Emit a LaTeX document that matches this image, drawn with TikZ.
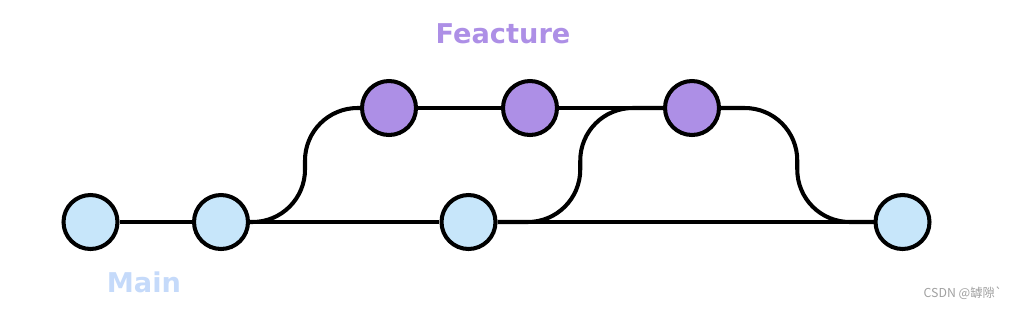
\documentclass[tikz,border=0pt]{standalone}
\usepackage{fontspec}
\setmainfont{DejaVu Sans}
\newfontfamily\cjk{Noto Sans CJK SC}
\usepackage{xcolor}
\usetikzlibrary{positioning, calc}
\definecolor{mainblue}{HTML}{C7E6FA}
\definecolor{mainlabel}{HTML}{C5DAFA}
\definecolor{featpurple}{HTML}{AD8FE6}
\definecolor{markgray}{HTML}{A0A0A0}

\begin{document}
\begin{tikzpicture}[
    x=0.02cm, y=-0.02cm,
    commit/.style={circle, draw=black, line width=2.3pt, minimum size=1.08cm, inner sep=0pt},
    maincommit/.style={commit, fill=mainblue},
    featcommit/.style={commit, fill=featpurple},
    branch/.style={line width=2.3pt, black},
    merge/.style={branch, rounded corners=1.05cm},
    label/.style={font=\bfseries\fontsize{15.5}{18}\selectfont},
  ]
  \useasboundingbox (0,0) rectangle (1016,309);
  % main commits
  \foreach \i/\x in {1/90.5, 2/221, 3/468.5, 4/902.5} {
    \node[maincommit] (m\i) at (\x, 222) {};
  }
  % feature commits
  \foreach \i/\x in {1/389, 2/530, 3/692} {
    \node[featcommit] (f\i) at (\x, 108) {};
  }
  % straight history
  \draw[branch] (m1.east) -- (m2.west);
  \draw[branch] (m2.east) -- (m3.west);
  \draw[branch] (m3.east) -- (m4.west);
  \draw[branch] (f1.east) -- (f2.west);
  \draw[branch] (f2.east) -- (f3.west);
  % branch out and merges
  \coordinate (k1) at ($(m2.east)!.5!(f1.west)$);
  \coordinate (k2) at ($(m3.east)!.5!(f3.west)$);
  \coordinate (k3) at ($(f3.east)!.5!(m4.west)$);
  \draw[merge] (m2.east) -- (m2.east -| k1) -- (f1.west -| k1) -- (f1.west);
  \draw[merge] (m3.east) -- (m3.east -| k2) -- (f3.west -| k2) -- (f3.west);
  \draw[merge] (f3.east) -- (f3.east -| k3) -- (m4.west -| k3) -- (m4.west);
  % labels
  \node[label, text=featpurple] (feat) at (503, 34) {Feacture};
  \node[label, text=mainlabel] (main) at (144, 282) {Main};
  \node[font=\cjk\fontsize{7}{8}\selectfont, text=markgray] (mark) at (963, 293) {CSDN @罅隙`};
\end{tikzpicture}
\end{document}
